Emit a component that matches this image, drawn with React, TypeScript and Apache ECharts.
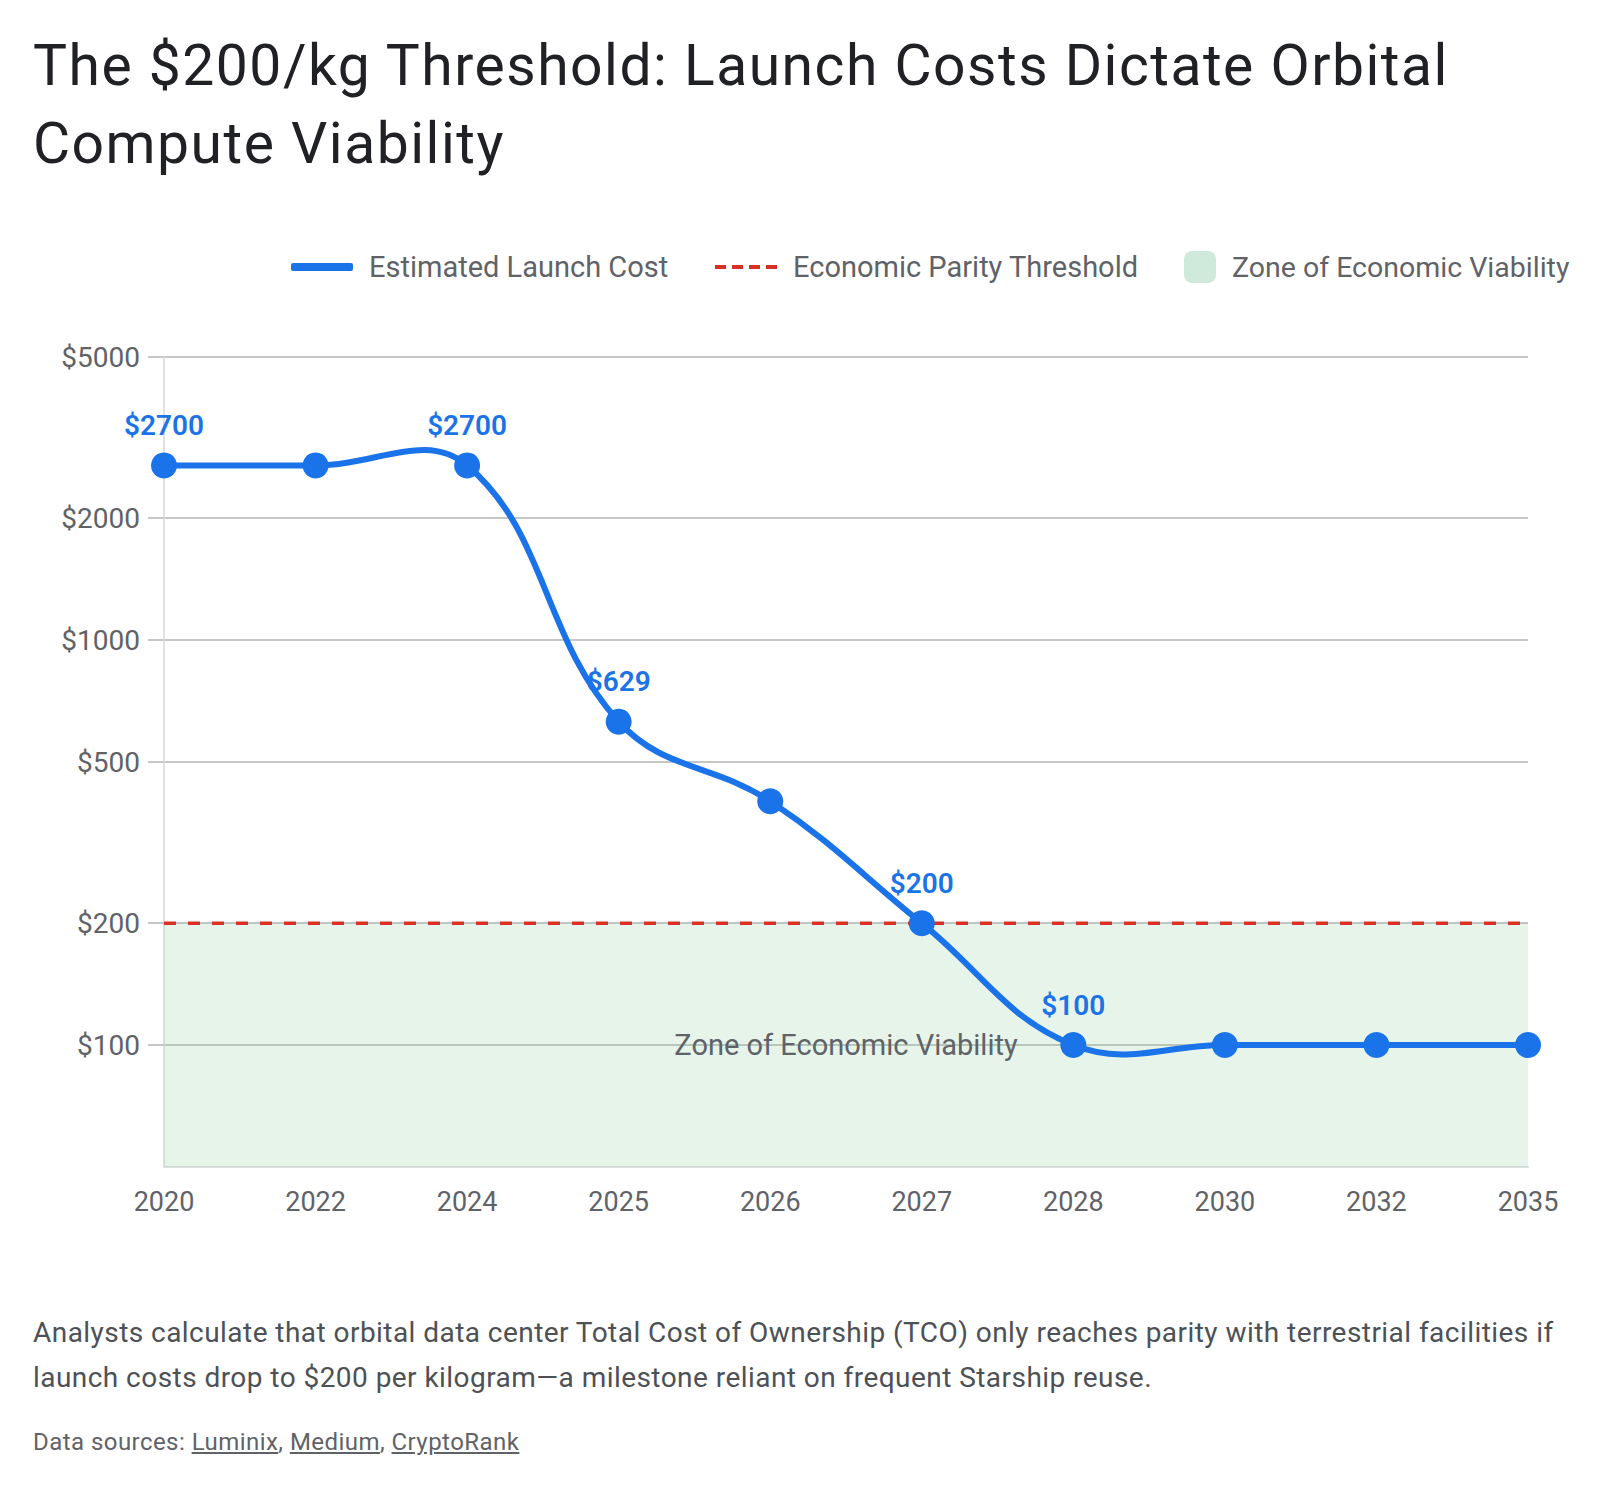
import React, { useEffect, useRef } from "react";
import * as echarts from "echarts";

// Launch cost per kilogram to low Earth orbit, by year
const YEARS = ["2020", "2022", "2024", "2025", "2026", "2027", "2028", "2030", "2032", "2035"];
const LAUNCH_COST = [2700, 2700, 2700, 629, 400, 200, 100, 100, 100, 100];
// Years whose point carries a value label
const LABELED_YEARS = ["2020", "2024", "2025", "2027", "2028"];
// Cost at which orbital compute reaches parity with terrestrial facilities
const PARITY_THRESHOLD = 200;
// Log-scale axis range and tick values
const Y_MIN = 50;
const Y_MAX = 5000;
const Y_TICKS = [100, 200, 500, 1000, 2000, 5000];

const FONT = "Roboto, sans-serif";
const BLUE = "#1a73e8";
const RED = "#d93025";
const GREY_TEXT = "#5f6368";
const TENSION = 0.4;

const SERIES_COST = "Estimated Launch Cost";
const SERIES_PARITY = "Economic Parity Threshold";
const SERIES_ZONE = "Zone of Economic Viability";

// Cardinal-spline segment between point i and i+1, in pixel space
function renderCostSegment(params: any, api: any) {
  const i = params.dataIndex;
  const n = LAUNCH_COST.length;
  if (i >= n - 1) return null;
  const pt = (k: number) => {
    const c = Math.min(Math.max(k, 0), n - 1);
    return api.coord([c, LAUNCH_COST[c]]);
  };
  const controls = (k: number) => {
    const prev = pt(k - 1);
    const cur = pt(k);
    const next = pt(k + 1);
    const d01 = Math.hypot(cur[0] - prev[0], cur[1] - prev[1]);
    const d12 = Math.hypot(next[0] - cur[0], next[1] - cur[1]);
    const s01 = d01 + d12 > 0 ? d01 / (d01 + d12) : 0;
    const s12 = d01 + d12 > 0 ? d12 / (d01 + d12) : 0;
    const fa = TENSION * s01;
    const fb = TENSION * s12;
    return {
      before: [cur[0] - fa * (next[0] - prev[0]), cur[1] - fa * (next[1] - prev[1])],
      after: [cur[0] + fb * (next[0] - prev[0]), cur[1] + fb * (next[1] - prev[1])],
    };
  };
  const a = pt(i);
  const b = pt(i + 1);
  const ca = controls(i);
  const cb = controls(i + 1);
  return {
    type: "bezierCurve",
    shape: {
      x1: a[0],
      y1: a[1],
      x2: b[0],
      y2: b[1],
      cpx1: ca.after[0],
      cpy1: ca.after[1],
      cpx2: cb.before[0],
      cpy2: cb.before[1],
    },
    style: { stroke: BLUE, lineWidth: 6, fill: "none", lineCap: "round" },
  };
}

export default function App() {
  const ref = useRef<HTMLDivElement>(null);

  useEffect(() => {
    document.body.style.margin = "0";
    if (!ref.current) return;
    const chart = echarts.init(ref.current, undefined, { renderer: "svg" });

    const legendBase = {
      top: 246,
      itemGap: 48,
      textStyle: {
        color: GREY_TEXT,
        fontSize: 29,
        fontFamily: FONT,
        lineHeight: 32,
        height: 32,
        padding: [0, 0, 0, 11],
      },
      selectedMode: false,
    };

    chart.setOption({
      animation: false,
      textStyle: { fontFamily: FONT },
      legend: [
        {
          ...legendBase,
          left: 286,
          itemWidth: 62,
          itemHeight: 8,
          data: [{ name: SERIES_COST, icon: "roundRect", itemStyle: { color: BLUE } }],
        },
        {
          ...legendBase,
          left: 710,
          itemWidth: 62,
          itemHeight: 4,
          data: [
            {
              name: SERIES_PARITY,
              icon: "path://M0,0h11v4h-11z M17,0h11v4h-11z M34,0h11v4h-11z M51,0h11v4h-11z",
              itemStyle: { color: RED },
            },
          ],
        },
        {
          ...legendBase,
          left: 1179,
          itemWidth: 32,
          itemHeight: 32,
          textStyle: { ...legendBase.textStyle, fontSize: 28.5 },
          data: [
            {
              name: SERIES_ZONE,
              icon: "roundRect",
              itemStyle: { color: "#cfeada", borderWidth: 0 },
            },
          ],
        },
      ],
      grid: { left: 164, right: 72, top: 357, bottom: 93 },
      xAxis: {
        type: "category",
        data: YEARS,
        boundaryGap: false,
        axisLine: { show: true, lineStyle: { color: "#dfe1e3", width: 2 } },
        axisTick: { show: false },
        axisLabel: { color: GREY_TEXT, fontSize: 27, margin: 21, fontFamily: FONT },
        splitLine: { show: false },
      },
      yAxis: {
        type: "log",
        logBase: 10,
        min: Y_MIN,
        max: Y_MAX,
        axisLine: { show: true, lineStyle: { color: "#dfe1e3", width: 2 } },
        axisTick: {
          show: true,
          customValues: Y_TICKS,
          length: 16,
          lineStyle: { color: "#c6c6c6", width: 2 },
        },
        axisLabel: {
          customValues: Y_TICKS,
          color: GREY_TEXT,
          fontSize: 28,
          margin: 24,
          fontFamily: FONT,
          formatter: (v: number) => "$" + v,
        },
        splitLine: { show: true, lineStyle: { color: "#c6c6c6", width: 2 } },
      },
      series: [
        {
          name: SERIES_PARITY,
          type: "line",
          z: 2,
          data: YEARS.map(() => PARITY_THRESHOLD),
          symbol: "none",
          silent: true,
          lineStyle: { color: RED, width: 3.5, type: [12, 12] },
          itemStyle: { color: RED },
        },
        {
          name: SERIES_COST,
          type: "custom",
          z: 3,
          silent: true,
          data: LAUNCH_COST.map((v, i) => [i, v]),
          encode: { x: 0, y: 1 },
          renderItem: renderCostSegment,
          itemStyle: { color: BLUE },
        },
        {
          name: SERIES_COST,
          type: "scatter",
          z: 3,
          data: LAUNCH_COST.map((v, i) => ({
            value: v,
            label: { show: LABELED_YEARS.includes(YEARS[i]) },
          })),
          symbol: "circle",
          symbolSize: 26,
          itemStyle: { color: BLUE, opacity: 1 },
          label: {
            position: "top",
            distance: 13,
            color: BLUE,
            fontSize: 28,
            fontWeight: 600,
            fontFamily: FONT,
            formatter: (p: any) => "$" + p.value,
          },
        },
        {
          name: SERIES_ZONE,
          type: "line",
          z: 4,
          data: [],
          silent: true,
          itemStyle: { color: "#cfeada" },
          markArea: {
            silent: true,
            itemStyle: { color: "rgba(129,201,149,0.2)" },
            label: {
              show: true,
              position: "inside",
              color: GREY_TEXT,
              fontSize: 29,
              fontFamily: FONT,
            },
            data: [[{ yAxis: Y_MIN, name: SERIES_ZONE }, { yAxis: PARITY_THRESHOLD }]],
          },
        },
      ],
    });

    return () => chart.dispose();
  }, []);

  return (
    <div style={{ position: "relative", width: 1600, height: 1490, background: "#fff", fontFamily: FONT }}>
      <div ref={ref} style={{ position: "absolute", left: 0, top: 0, width: 1600, height: 1260 }} />
      <div
        style={{
          position: "absolute",
          left: 33,
          top: 27,
          width: 1540,
          fontSize: 57,
          letterSpacing: "1.5px",
          lineHeight: "78px",
          color: "#202124",
        }}
      >
        The $200/kg Threshold: Launch Costs Dictate Orbital Compute Viability
      </div>
      <div
        style={{
          position: "absolute",
          left: 33,
          top: 1310,
          width: 1545,
          fontSize: 28,
          letterSpacing: "0.45px",
          lineHeight: "45px",
          color: "#4d5156",
        }}
      >
        Analysts calculate that orbital data center Total Cost of Ownership (TCO) only reaches parity with
        terrestrial facilities if launch costs drop to $200 per kilogram—a milestone reliant on frequent Starship
        reuse.
      </div>
      <div
        style={{
          position: "absolute",
          left: 33,
          top: 1427,
          fontSize: 24,
          letterSpacing: "0.45px",
          lineHeight: "30px",
          color: GREY_TEXT,
        }}
      >
        Data sources: <u>Luminix</u>, <u>Medium</u>, <u>CryptoRank</u>
      </div>
    </div>
  );
}
